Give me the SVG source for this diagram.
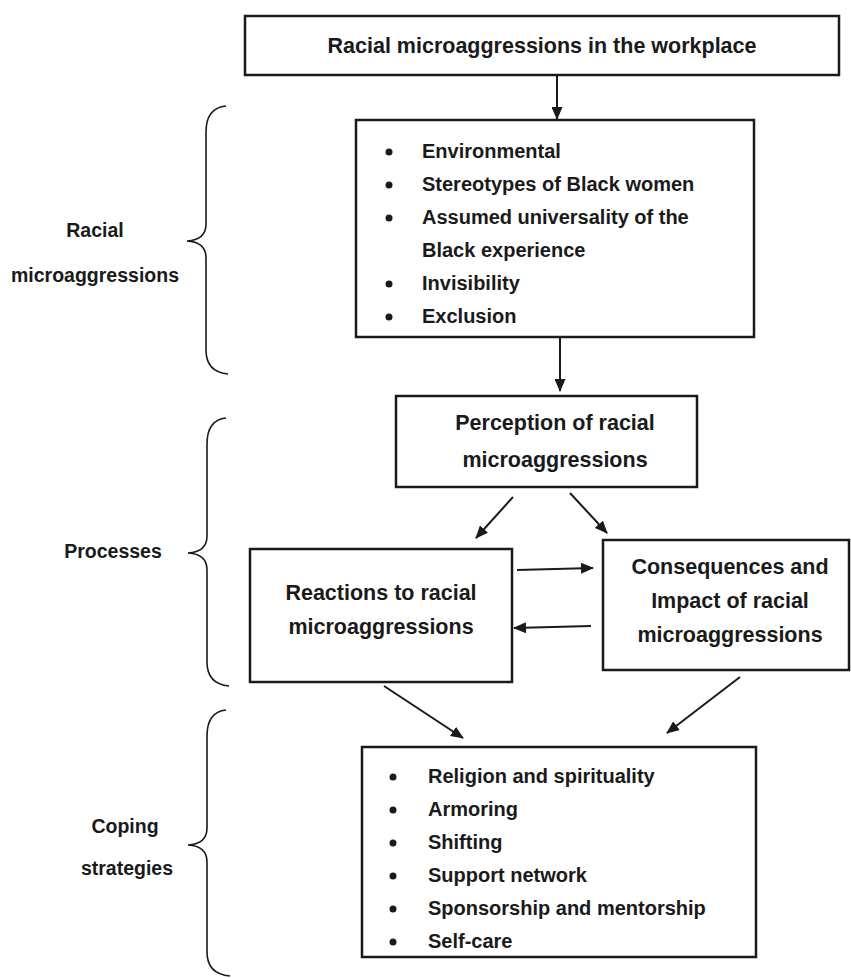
<svg xmlns="http://www.w3.org/2000/svg" width="851" height="978" viewBox="0 0 851 978">
  <defs>
    <marker id="ah" markerWidth="13" markerHeight="11" refX="12" refY="5.5" orient="auto" markerUnits="userSpaceOnUse">
      <path d="M0,0 L13,5.5 L0,11 Z" fill="#1a1a1a"/>
    </marker>
    <style>
      .box { fill: #ffffff; stroke: #1a1a1a; stroke-width: 2.5; }
      .t { font-family: "Liberation Sans", Arial, sans-serif; font-weight: bold; font-size: 20px; fill: #1a1a1a; }
      .h { font-size: 21.5px; }
      .c { text-anchor: middle; }
      .lbl { font-family: "Liberation Sans", Arial, sans-serif; font-weight: bold; font-size: 19.5px; fill: #1a1a1a; text-anchor: middle; }
      .brace { fill: none; stroke: #1a1a1a; stroke-width: 1.6; }
      .conn { fill: none; stroke: #1a1a1a; stroke-width: 2; marker-end: url(#ah); }
      .dot { fill: #1a1a1a; }
    </style>
  </defs>
  <rect width="851" height="978" fill="#ffffff"/>

  <!-- Braces and labels -->
  <g id="brace-racial">
    <path class="brace" d="M226,106 Q206,108 206,132 L206,224 Q206,240 187,241 Q206,242 206,258 L206,350 Q206,372 228,374"/>
    <text class="lbl" x="95" y="237">Racial</text>
    <text class="lbl" x="95" y="282">microaggressions</text>
  </g>
  <g id="brace-processes">
    <path class="brace" d="M226,418 Q207,420 207,444 L207,536 Q207,552 188,553 Q207,554 207,570 L207,662 Q207,684 229,686"/>
    <text class="lbl" x="113" y="558">Processes</text>
  </g>
  <g id="brace-coping">
    <path class="brace" d="M226,710 Q207,712 207,736 L207,828 Q207,844 188,845 Q207,846 207,862 L207,952 Q207,974 230,976"/>
    <text class="lbl" x="125" y="833">Coping</text>
    <text class="lbl" x="127" y="875">strategies</text>
  </g>

  <!-- Connectors -->
  <g id="connectors">
    <line class="conn" x1="557" y1="76" x2="557" y2="119"/>
    <line class="conn" x1="560" y1="337" x2="560" y2="391"/>
    <line class="conn" x1="513" y1="497" x2="476" y2="538"/>
    <line class="conn" x1="570" y1="493" x2="607" y2="533"/>
    <line class="conn" x1="517" y1="570" x2="593" y2="568"/>
    <line class="conn" x1="591" y1="626" x2="514" y2="628"/>
    <line class="conn" x1="384" y1="686" x2="463" y2="738"/>
    <line class="conn" x1="740" y1="677" x2="667" y2="733"/>
  </g>

  <!-- Nodes -->
  <g id="node-workplace">
    <rect class="box" x="245" y="16" width="594" height="59"/>
    <text class="t h c" x="542" y="53">Racial microaggressions in the workplace</text>
  </g>

  <g id="node-microaggressions">
    <rect class="box" x="356" y="120" width="398" height="217"/>
    <circle class="dot" cx="389" cy="152" r="3.5"/>
    <text class="t" x="422" y="158">Environmental</text>
    <circle class="dot" cx="389" cy="185" r="3.5"/>
    <text class="t" x="422" y="191">Stereotypes of Black women</text>
    <circle class="dot" cx="389" cy="218" r="3.5"/>
    <text class="t" x="422" y="224">Assumed universality of the</text>
    <text class="t" x="422" y="257">Black experience</text>
    <circle class="dot" cx="389" cy="284" r="3.5"/>
    <text class="t" x="422" y="290">Invisibility</text>
    <circle class="dot" cx="389" cy="317" r="3.5"/>
    <text class="t" x="422" y="323">Exclusion</text>
  </g>

  <g id="node-perception">
    <rect class="box" x="396" y="396" width="301" height="91"/>
    <text class="t h c" x="555" y="430">Perception of racial</text>
    <text class="t h c" x="555" y="467">microaggressions</text>
  </g>

  <g id="node-reactions">
    <rect class="box" x="250" y="549" width="262" height="133"/>
    <text class="t h c" x="381" y="600">Reactions to racial</text>
    <text class="t h c" x="381" y="634">microaggressions</text>
  </g>

  <g id="node-consequences">
    <rect class="box" x="603" y="540" width="246" height="130"/>
    <text class="t h c" x="730" y="574">Consequences and</text>
    <text class="t h c" x="730" y="608">Impact of racial</text>
    <text class="t h c" x="730" y="642">microaggressions</text>
  </g>

  <g id="node-coping">
    <rect class="box" x="362" y="747" width="394" height="210"/>
    <circle class="dot" cx="393" cy="777" r="3.5"/>
    <text class="t" x="428" y="783">Religion and spirituality</text>
    <circle class="dot" cx="393" cy="810" r="3.5"/>
    <text class="t" x="428" y="816">Armoring</text>
    <circle class="dot" cx="393" cy="843" r="3.5"/>
    <text class="t" x="428" y="849">Shifting</text>
    <circle class="dot" cx="393" cy="876" r="3.5"/>
    <text class="t" x="428" y="882">Support network</text>
    <circle class="dot" cx="393" cy="909" r="3.5"/>
    <text class="t" x="428" y="915">Sponsorship and mentorship</text>
    <circle class="dot" cx="393" cy="942" r="3.5"/>
    <text class="t" x="428" y="948">Self-care</text>
  </g>
</svg>
